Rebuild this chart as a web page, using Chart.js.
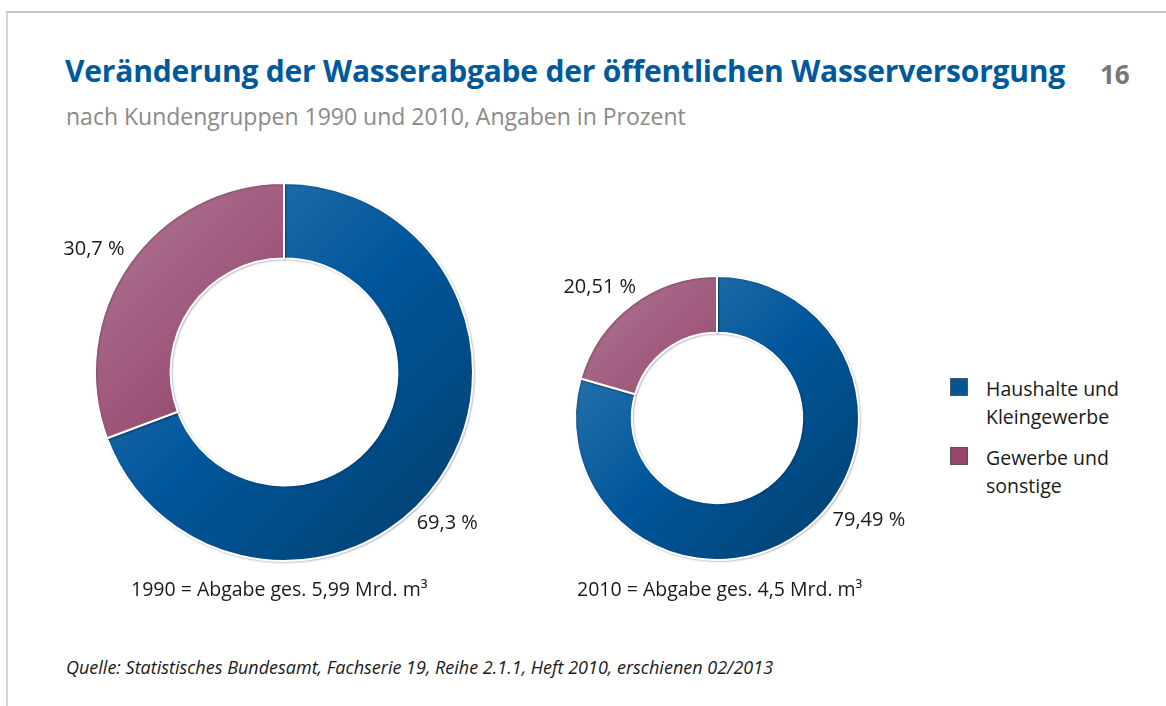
<!DOCTYPE html>
<html>
<head>
<meta charset="utf-8">
<script src="https://cdn.jsdelivr.net/npm/chart.js@4"></script>
<style>
  html, body { margin: 0; padding: 0; background: #fff; }
  body { width: 1166px; height: 706px; position: relative; overflow: hidden; font-family: "Open Sans", sans-serif; color: #1a1a1a; }
  .frame { position: absolute; left: 6px; top: 11px; right: -10px; bottom: -10px; border-top: 2px solid #c8c8c8; border-left: 2px solid #d4d4d4; }
  .title { position: absolute; left: 65px; top: 50px; font-size: 30px; font-weight: 700; color: #00599b; letter-spacing: -0.2px; white-space: nowrap; }
  .page { position: absolute; left: 1100px; top: 56px; font-size: 26px; font-weight: 700; color: #777; }
  .sub { position: absolute; left: 66px; top: 100px; font-size: 23px; color: #8a8a8a; white-space: nowrap; }
  canvas { position: absolute; }
  .cap { position: absolute; top: 575px; font-size: 19.5px; white-space: nowrap; }
  .src { position: absolute; left: 66px; top: 655px; font-size: 18px; font-style: italic; white-space: nowrap; }
  .legend { position: absolute; left: 950px; top: 375px; font-size: 19.5px; line-height: 28px; }
  .legend .item { position: relative; padding-left: 36px; margin-bottom: 13px; }
  .legend .sw { position: absolute; left: 0; top: 3px; width: 18px; height: 18px; border: 1px solid #555; box-sizing: border-box; }
</style>
</head>
<body>
<div class="frame"></div>
<div class="title">Veränderung der Wasserabgabe der öffentlichen Wasserversorgung</div>
<div class="page">16</div>
<div class="sub">nach Kundengruppen 1990 und 2010, Angaben in Prozent</div>

<canvas id="c1990" width="568" height="462" style="left:0px;top:141px"></canvas>
<canvas id="c2010" width="400" height="400" style="left:517px;top:218px"></canvas>

<div class="cap" id="cap1990" style="left:131px"></div>
<div class="cap" id="cap2010" style="left:577px"></div>
<div class="legend" id="legend"></div>
<div class="src">Quelle: Statistisches Bundesamt, Fachserie 19, Reihe 2.1.1, Heft 2010, erschienen 02/2013</div>

<script>
// data
const categories = ["Haushalte und Kleingewerbe", "Gewerbe und sonstige"];
const legendLines = [["Haushalte und", "Kleingewerbe"], ["Gewerbe und", "sonstige"]];
const share1990 = [69.3, 30.7];
const share2010 = [79.49, 20.51];
const labels1990 = ["69,3 %", "30,7 %"];
const labels2010 = ["79,49 %", "20,51 %"];
const totals = ["1990 = Abgabe ges. 5,99 Mrd. m³", "2010 = Abgabe ges. 4,5 Mrd. m³"];

// colour stops: light (top-left) -> dark (bottom-right)
const blueStops = ["#3a7db2", "#00569b", "#023e6c"];
const pinkStops = ["#b07896", "#94466c", "#7e3a5b"];

// one scriptable function for all slices (arrays of functions are not resolved)
function shade(ctx) {
  const stops = ctx.dataIndex === 0 ? blueStops : pinkStops;
  const area = ctx.chart.chartArea;
  if (!area) return stops[1];
  const g = ctx.chart.ctx.createLinearGradient(area.left, area.top, area.right, area.bottom);
  g.addColorStop(0, stops[0]);
  g.addColorStop(0.5, stops[1]);
  g.addColorStop(1, stops[2]);
  return g;
}

// soft edge shadow under the ring
const ringShadow = {
  id: "ringShadow",
  beforeDatasetsDraw(chart) {
    const c = chart.ctx;
    c.save();
    c.shadowColor = "rgba(0,0,0,0.2)";
    c.shadowBlur = 2;
    c.shadowOffsetX = 1;
    c.shadowOffsetY = 1;
  },
  afterDatasetsDraw(chart) {
    chart.ctx.restore();
  }
};

// percentage labels outside the ring, at a given angle (deg, canvas system)
const outsideLabels = {
  id: "outsideLabels",
  afterDatasetsDraw(chart, args, opts) {
    const ctx = chart.ctx;
    const arcs = chart.getDatasetMeta(0).data;
    ctx.save();
    ctx.font = "20px 'Open Sans'";
    ctx.fillStyle = "#1a1a1a";
    ctx.textBaseline = "middle";
    arcs.forEach((arc, i) => {
      const a = opts.angles[i] * Math.PI / 180;
      const d = arc.outerRadius + opts.gap;
      const x = arc.x + Math.cos(a) * d;
      const y = arc.y + Math.sin(a) * d;
      ctx.textAlign = Math.cos(a) >= 0 ? "left" : "right";
      ctx.fillText(opts.texts[i], x, y);
    });
    ctx.restore();
  }
};

function ring(id, values, texts, padX, padY, angles) {
  new Chart(document.getElementById(id), {
    type: "doughnut",
    data: {
      labels: categories,
      datasets: [{
        data: values,
        backgroundColor: shade,
        borderColor: "#ffffff",
        borderWidth: 2,
        hoverOffset: 0
      }]
    },
    options: {
      responsive: false,
      animation: false,
      cutout: "60%",
      layout: { padding: { left: padX, right: padX, top: padY, bottom: padY } },
      plugins: {
        legend: { display: false },
        tooltip: { enabled: false },
        outsideLabels: { texts: texts, angles: angles, gap: 12 }
      }
    },
    plugins: [ringShadow, outsideLabels]
  });
}

ring("c1990", share1990, labels1990, 94, 41, [48.7, 217.5]);
ring("c2010", share2010, labels2010, 57, 57, [41.4, 238.3]);

document.getElementById("cap1990").textContent = totals[0];
document.getElementById("cap2010").textContent = totals[1];

const legend = document.getElementById("legend");
categories.forEach((c, i) => {
  const item = document.createElement("div");
  item.className = "item";
  const sw = document.createElement("div");
  sw.className = "sw";
  sw.style.background = i === 0 ? blueStops[1] : pinkStops[1];
  item.appendChild(sw);
  item.appendChild(document.createTextNode(legendLines[i][0]));
  item.appendChild(document.createElement("br"));
  item.appendChild(document.createTextNode(legendLines[i][1]));
  legend.appendChild(item);
});
</script>
</body>
</html>
